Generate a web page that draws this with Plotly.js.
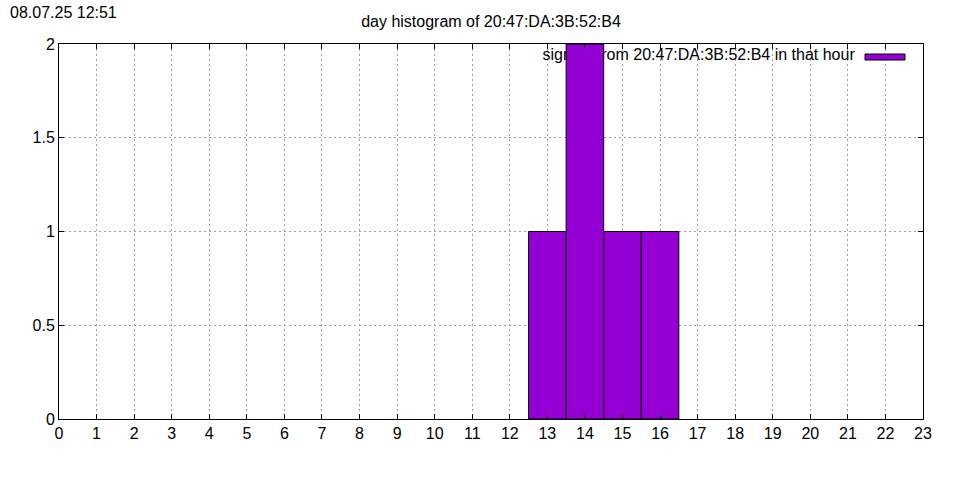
<!DOCTYPE html>
<html>
<head>
<meta charset="utf-8">
<script src="https://cdn.plot.ly/plotly-3.0.1.min.js"></script>
<style>html,body{margin:0;padding:0;background:#fff;}#chart{width:960px;height:480px;}</style>
</head>
<body>
<div id="chart"></div>
<script>
// ---- data ----
const hours = [0,1,2,3,4,5,6,7,8,9,10,11,12,13,14,15,16,17,18,19,20,21,22,23];
const counts = [0,0,0,0,0,0,0,0,0,0,0,0,0,1,2,1,1,0,0,0,0,0,0,0];
const xTicks = [0,1,2,3,4,5,6,7,8,9,10,11,12,13,14,15,16,17,18,19,20,21,22,23];
const yTicks = [0,0.5,1,1.5,2];
const yTickLabels = ['0','0.5','1','1.5','2'];
const titleText = 'day histogram of 20:47:DA:3B:52:B4';
const stampText = '08.07.25 12:51';
const seriesName = 'signals from 20:47:DA:3B:52:B4 in that hour';

const FONT = 'Liberation Sans, Arial, sans-serif';
const FS = 16;
const BAR = '#9400D3';

// legend text drawn on the base subplot (under the bars, as in the reference)
const legendText = {
  type: 'scatter', mode: 'text', xaxis: 'x', yaxis: 'y',
  x: [0.921], y: [(419-56)/375], text: [seriesName],
  textposition: 'middle left',
  textfont: {family: FONT, size: FS, color: '#000'},
  hoverinfo: 'skip', showlegend: false, cliponaxis: false
};

const bars = {
  type: 'bar', xaxis: 'x2', yaxis: 'y2',
  x: hours, y: counts, width: 1,
  marker: {color: BAR, line: {color: '#000', width: counts.map(c => c ? 1 : 0)}},
  name: seriesName, showlegend: false
};

const layout = {
  width: 960, height: 480,
  margin: {l: 59, r: 37, t: 44, b: 61},
  paper_bgcolor: '#fff', plot_bgcolor: '#fff',
  font: {family: FONT, size: FS, color: '#000'},
  showlegend: false,
  bargap: 0,
  title: {text: titleText, font: {family: FONT, size: FS}, x: 0.5, xref: 'paper', y: 1 - 21/480, yref: 'container', yanchor: 'middle'},
  xaxis: {visible: false, range: [0, 1], fixedrange: true},
  yaxis: {visible: false, range: [0, 1], fixedrange: true},
  xaxis2: {
    overlaying: 'x', anchor: 'y2', side: 'bottom',
    range: [0, 23], tickmode: 'array', tickvals: xTicks, ticktext: xTicks.map(String),
    ticks: 'inside', ticklen: 5, tickcolor: '#000', tickwidth: 1,
    showline: true, linecolor: '#000', linewidth: 1, mirror: 'allticks',
    showgrid: true, gridcolor: '#a0a0a0', gridwidth: 1, griddash: '2px,3px',
    zeroline: false, tickfont: {family: FONT, size: FS}
  },
  yaxis2: {
    overlaying: 'y', anchor: 'x2', side: 'left',
    range: [0, 2], tickmode: 'array', tickvals: yTicks, ticktext: yTickLabels,
    ticks: 'inside', ticklen: 5, tickcolor: '#000', tickwidth: 1,
    showline: true, linecolor: '#000', linewidth: 1, mirror: 'allticks',
    showgrid: true, gridcolor: '#a0a0a0', gridwidth: 1, griddash: '2px,3px',
    zeroline: false, tickfont: {family: FONT, size: FS}
  },
  shapes: [{
    type: 'rect', xref: 'paper', yref: 'paper', layer: 'above',
    x0: (865-59)/864, x1: (905-59)/864, y0: (419-60)/375, y1: (419-54)/375,
    fillcolor: BAR, line: {color: '#000', width: 1}
  }],
  annotations: [{
    text: stampText, xref: 'paper', yref: 'paper',
    x: (8-59)/864, y: (419-12)/375, xanchor: 'left', yanchor: 'middle',
    showarrow: false, font: {family: FONT, size: FS}
  }]
};

Plotly.newPlot('chart', [legendText, bars], layout, {displayModeBar: false, staticPlot: true});
</script>
</body>
</html>
